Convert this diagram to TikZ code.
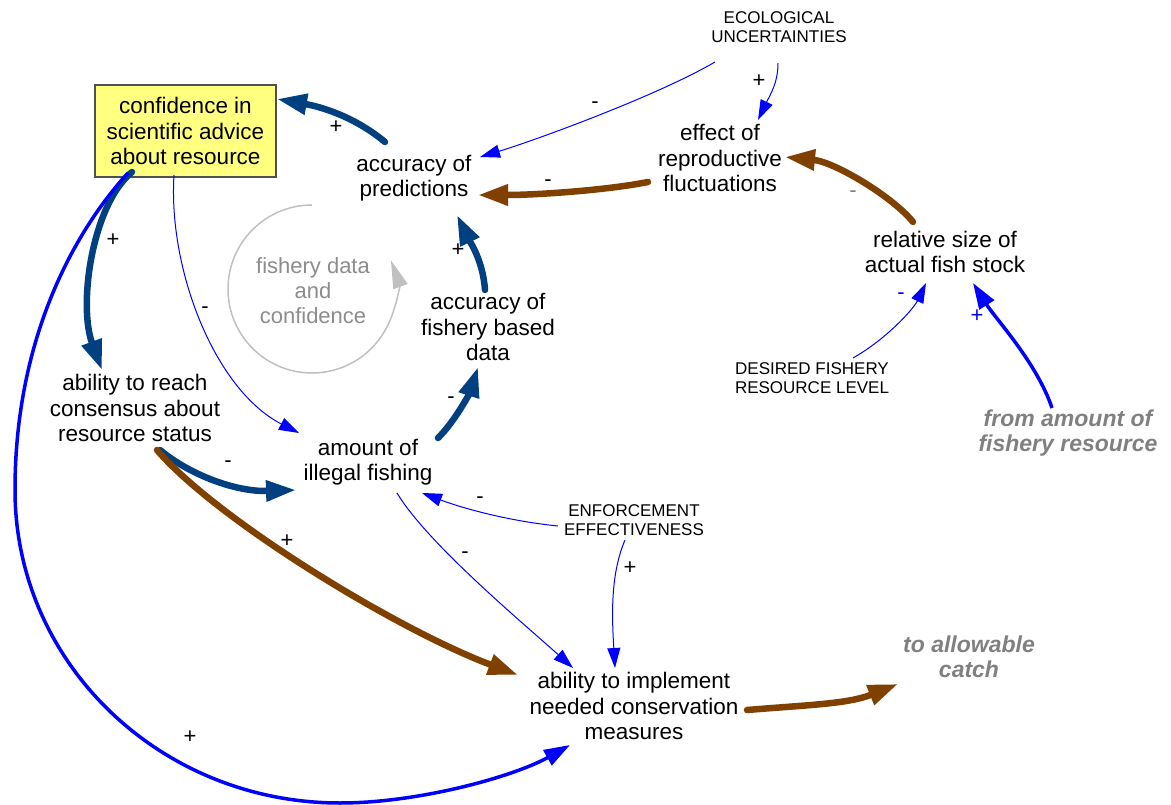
\documentclass[tikz,border=0pt]{standalone}
\usepackage{fontspec}
\setmainfont{Liberation Sans}
\usetikzlibrary{arrows.meta,calc}
\definecolor{dblue}{RGB}{0,64,128}
\definecolor{cbrown}{RGB}{128,64,0}
\definecolor{cblue}{RGB}{0,0,255}
\definecolor{ggrey}{RGB}{128,128,128}
\definecolor{loopgrey}{RGB}{140,140,140}
\definecolor{loopline}{RGB}{192,192,192}
\definecolor{boxfill}{RGB}{255,255,128}
\definecolor{boxline}{RGB}{80,80,80}
\begin{document}
\begin{tikzpicture}[x=1pt,y=-1pt,
  lab/.style={font=\fontsize{22.5}{25.5}\selectfont, align=center, inner sep=0pt},
  caps/.style={font=\fontsize{17}{19.5}\selectfont, align=center, inner sep=0pt},
  ghost/.style={font=\fontsize{23}{25}\selectfont\bfseries\itshape, text=ggrey, align=center, inner sep=0pt},
  looptext/.style={font=\fontsize{22}{25}\selectfont, text=loopgrey, align=center, inner sep=0pt},
  pol/.style={font=\fontsize{22}{22}\selectfont, inner sep=0pt},
  bluethick/.style={line width=6.5pt, dblue, line cap=round, -{Triangle[length=30pt,width=20pt]}},
  brownthick/.style={line width=6.5pt, cbrown, line cap=round, -{Triangle[length=30pt,width=20pt]}},
  thinlink/.style={line width=1pt, cblue, -{Triangle[length=20pt,width=13pt]}},
  medlink/.style={line width=3.5pt, cblue, -{Triangle[length=26pt,width=17pt]}},
]
\useasboundingbox (0,0) rectangle (1171,805);

% nodes
\node[lab, draw=boxline, fill=boxfill, line width=1.2pt, minimum width=181pt, minimum height=92pt] (conf) at (185.5,131) {confidence in\\scientific advice\\about resource};
\node[lab] (pred) at (414,178) {accuracy of\\predictions};
\node[lab] (effect) at (720,158) {effect of\\reproductive\\fluctuations};
\node[caps] (ecol) at (779,27) {ECOLOGICAL\\UNCERTAINTIES};
\node[lab] (rel) at (945,252) {relative size of\\actual fish stock};
\node[caps] (desired) at (812,378) {DESIRED FISHERY\\RESOURCE LEVEL};
\node[ghost] (from) at (1068,433) {from amount of\\fishery resource};
\node[lab] (accfish) at (488,327) {accuracy of\\fishery based\\data};
\node[lab] (consensus) at (135,408) {ability to reach\\consensus about\\resource status};
\node[lab] (illegal) at (368,462) {amount of\\illegal fishing};
\node[caps] (enforce) at (634,520) {ENFORCEMENT\\EFFECTIVENESS};
\node[lab] (implement) at (634,706) {ability to implement\\needed conservation\\measures};
\node[ghost] (allowable) at (969,657) {to allowable\\catch};
\node[looptext] (loop) at (313,291) {fishery data\\and\\confidence};
\coordinate (loopc) at (312,289);

% loop arc
\draw[loopline, line width=1.5pt, -{Triangle[length=28pt,width=15pt]}] ($(loopc)+(0,-84)$) arc[start angle=270, end angle=-20, radius=84];

% connectors
\draw[bluethick] ($(pred)+(-29,-36)$) .. controls +(-30,-25) and +(45,8) .. ($(conf)+(91.5,-32)$);
\draw[bluethick] ($(conf)+(-53.5,41)$) .. controls +(-40,33) and +(-24,-65) .. ($(consensus)+(-33,-38)$);
\draw[medlink] ($(conf)+(-57.5,42)$) .. controls +(-55,60) and +(0,-150) .. (15,490)
   .. controls +(0,173) and +(-180,0) .. (340,803)
   .. controls +(80,0) and +(-55,31) .. ($(implement)+(-64,39)$);
\draw[thinlink] ($(conf)+(-11.5,44)$) .. controls +(-6,95) and +(-84,-43) .. ($(illegal)+(-69,-29)$);
\draw[thinlink] ($(ecol)+(-64,35)$) .. controls +(-60,35) and +(50,-15) .. ($(pred)+(66,-21)$);
\draw[thinlink] ($(ecol)+(-1,36)$) .. controls +(0,20) and +(12,-25) .. ($(effect)+(38,-38)$);
\draw[brownthick] ($(effect)+(-72,24)$) .. controls +(-40,8) and +(60,0) .. ($(pred)+(64,17)$);
\draw[brownthick] ($(rel)+(-32,-30)$) .. controls +(-20,-25) and +(50,5) .. ($(effect)+(65,-1)$);
\draw[thinlink] ($(desired)+(41,-20)$) .. controls +(35,-20) and +(-12,25) .. ($(rel)+(-19,31)$);
\draw[medlink] ($(from)+(-16,-25)$) .. controls +(-15,-45) and +(22,35) .. ($(rel)+(28,31)$);
\draw[bluethick] ($(accfish)+(-3,-37)$) .. controls +(-2,-30) and +(12,25) .. ($(pred)+(43,37)$);
\draw[bluethick] ($(illegal)+(70,-24)$) .. controls +(18,-18) and +(-8,25) .. ($(accfish)+(-10,40)$);
\draw[bluethick] ($(consensus)+(25,42)$) .. controls +(30,25) and +(-60,2) .. ($(illegal)+(-72,28)$);
\draw[brownthick] ($(consensus)+(22,42)$) .. controls +(60,70) and +(-120,-45) .. ($(implement)+(-116,-31)$);
\draw[thinlink] ($(enforce)+(-76,6)$) .. controls +(-50,-5) and +(40,15) .. ($(illegal)+(54,31)$);
\draw[thinlink] ($(illegal)+(29,31)$) .. controls +(30,50) and +(-50,-45) .. ($(implement)+(-61,-38)$);
\draw[thinlink] ($(enforce)+(-9,20)$) .. controls +(-15,35) and +(-3,-50) .. ($(implement)+(-19,-38)$);
\draw[brownthick] ($(implement)+(113,4)$) .. controls +(60,-5) and +(-50,20) .. ($(allowable)+(-71,27)$);

% polarity labels
\node[pol] (p1) at (336,127) {+};
\node[pol] (p2) at (113,240) {+};
\node[pol] (p3) at (190,737) {+};
\node[pol] (p4) at (205,310) {-};
\node[pol] (p5) at (595,105) {-};
\node[pol] (p6) at (759,81) {+};
\node[pol] (p7) at (548,183) {-};
\node[pol, text=ggrey] (p8) at (853,194) {-};
\node[pol, text=cblue] (p9) at (901,296) {-};
\node[pol, text=cblue] (p10) at (977,316) {+};
\node[pol] (p11) at (458,250) {+};
\node[pol] (p12) at (451,400) {-};
\node[pol] (p13) at (228,464) {-};
\node[pol] (p14) at (287,541) {+};
\node[pol] (p15) at (480,500) {-};
\node[pol] (p16) at (465,555) {-};
\node[pol] (p17) at (630,568) {+};
\end{tikzpicture}
\end{document}
